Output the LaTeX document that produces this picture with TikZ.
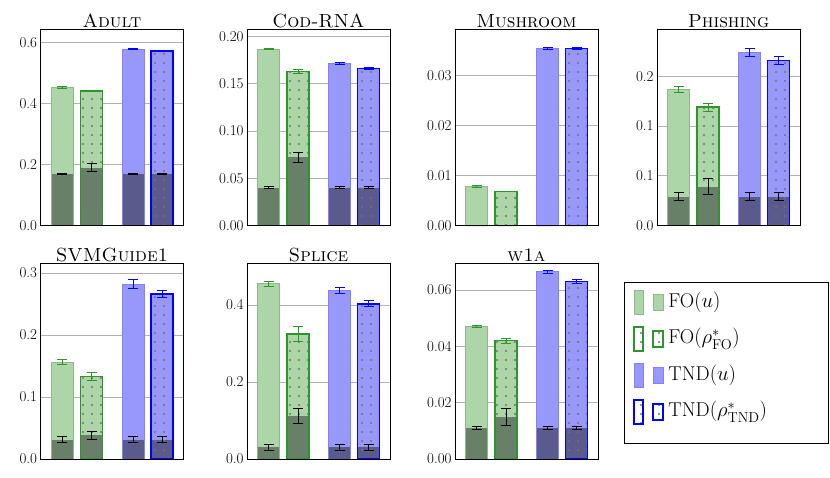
\documentclass[tikz,border=0pt]{standalone}
\usepackage{amsmath}
\usepackage{tikz}
\usetikzlibrary{patterns.meta}
\definecolor{folight}{RGB}{172,214,167}
\definecolor{fodark}{RGB}{104,128,104}
\definecolor{foedge}{RGB}{44,150,44}
\definecolor{tndlight}{RGB}{152,152,250}
\definecolor{tnddark}{RGB}{90,90,140}
\definecolor{tndedge}{RGB}{0,0,255}

% panel frame, grid and ticks
\newcommand{\panel}[5]{%
  \def\pl{#1}\pgfmathsetmacro\pb{#2+196}\pgfmathsetmacro\ps{196/#3}
  \foreach \v/\l in {#5}{
    \draw[gridline] (\pl,\pb-\v*\ps) -- (\pl+143,\pb-\v*\ps);
    \node[ticklabel] at (\pl,\pb-\v*\ps) {\l};
  }
  \node[paneltitle] (title-#4) at (\pl+71.5,#2) {\textsc{#4}};
}
\newcommand{\errbar}[4]{%
  \ifdim #3pt>0pt
    \draw[#4] (#1-5,\pb-#2*\ps-#3*\ps) -- (#1+5,\pb-#2*\ps-#3*\ps)
      (#1,\pb-#2*\ps-#3*\ps) -- (#1,\pb-#2*\ps+#3*\ps)
      (#1-5,\pb-#2*\ps+#3*\ps) -- (#1+5,\pb-#2*\ps+#3*\ps);
  \fi
}
\newcommand{\drawbar}[6]{%
  \pgfmathsetmacro\xa{\pl+#1-11}\pgfmathsetmacro\xb{\pl+#1+11}
  \pgfmathsetmacro\yt{\pb-(#2)*\ps}\pgfmathsetmacro\yb{\pb-(#4)*\ps}
  \fill[#6 light] (\xa,\pb) rectangle (\xb,\yt);
  \fill[#6 dark] (\xa,\pb) rectangle (\xb,\yb);
  \draw[#6 edge] (\xa,\pb) rectangle (\xb,\yt);
  \errbar{\pl+#1}{#2}{#3}{#6 err}
  \errbar{\pl+#1}{#4}{#5}{black}
}
\newcommand{\frameit}{\draw[line width=1pt] (\pl,\pb-196) rectangle (\pl+143,\pb);}
\newcommand{\fourbars}[4]{%
  \drawbar{21.7}#1{fo}\drawbar{51}#2{fos}\drawbar{92.5}#3{tnd}\drawbar{121.5}#4{tnds}\frameit}

\begin{document}
\begin{tikzpicture}[x=1pt,y=-1pt,line width=0.8pt]
\useasboundingbox (0,0) rectangle (830,477);

\tikzstyle{gridline}=[gray!60,line width=0.8pt]
\tikzstyle{ticklabel}=[anchor=east,inner sep=3pt,font=\fontsize{15}{18}\selectfont]
\tikzstyle{paneltitle}=[anchor=south,inner sep=1pt,font=\fontsize{19}{22}\selectfont]
\tikzstyle{dots}=[pattern={Dots[distance=9pt,radius=1.2pt,xshift=2pt]},pattern color=black!55]
\tikzstyle{fo light}=[fill=folight]
\tikzstyle{fo dark}=[fill=fodark]
\tikzstyle{fo edge}=[draw=folight!85!black,line width=0.6pt]
\tikzstyle{fo err}=[foedge]
\tikzstyle{fos light}=[fill=folight]
\tikzstyle{fos dark}=[fill=fodark]
\tikzstyle{fos edge}=[dots,draw=foedge,line width=1.4pt]
\tikzstyle{fos err}=[foedge]
\tikzstyle{tnd light}=[fill=tndlight]
\tikzstyle{tnd dark}=[fill=tnddark]
\tikzstyle{tnd edge}=[draw=tndlight!85!blue,line width=0.6pt]
\tikzstyle{tnd err}=[tndedge]
\tikzstyle{tnds light}=[fill=tndlight]
\tikzstyle{tnds dark}=[fill=tnddark]
\tikzstyle{tnds edge}=[dots,draw=tndedge,line width=1.4pt]
\tikzstyle{tnds err}=[tndedge]
\tikzstyle{legend bar}=[minimum width=9pt,inner sep=0pt]

% top row
\panel{40.5}{29.5}{0.643}{Adult}{0/0.0,0.2/0.2,0.4/0.4,0.6/0.6}
\fourbars{{0.453}{0.002}{0.17}{0.002}}{{0.441}{0.002}{0.19}{0.013}}{{0.579}{0.002}{0.17}{0.002}}{{0.572}{0.002}{0.17}{0.002}}

\panel{247}{29.5}{0.2075}{Cod-RNA}{0/0.00,0.05/0.05,0.1/0.10,0.15/0.15,0.2/0.20}
\fourbars{{0.187}{0.001}{0.04}{0.001}}{{0.163}{0.002}{0.072}{0.005}}{{0.172}{0.001}{0.04}{0.001}}{{0.166}{0.001}{0.04}{0.001}}

\panel{455}{29.5}{0.0393}{Mushroom}{0/0.00,0.01/0.01,0.02/0.02,0.03/0.03}
\fourbars{{0.0079}{0.0002}{0}{0}}{{0.0068}{0}{0}{0}}{{0.0355}{0.0002}{0}{0}}{{0.0355}{0.0002}{0}{0}}

\panel{657}{29.5}{0.197}{Phishing}{0/0.0,0.05/0.1,0.1/0.1,0.15/0.2}
\fourbars{{0.137}{0.003}{0.029}{0.004}}{{0.119}{0.004}{0.039}{0.008}}{{0.174}{0.004}{0.029}{0.004}}{{0.166}{0.004}{0.029}{0.004}}

% bottom row
\panel{40.5}{263}{0.316}{SVMGuide1}{0/0.0,0.1/0.1,0.2/0.2,0.3/0.3}
\fourbars{{0.156}{0.004}{0.031}{0.005}}{{0.133}{0.006}{0.038}{0.006}}{{0.282}{0.007}{0.031}{0.005}}{{0.266}{0.006}{0.031}{0.005}}

\panel{247}{263}{0.509}{Splice}{0/0.0,0.2/0.2,0.4/0.4}
\fourbars{{0.455}{0.007}{0.03}{0.007}}{{0.325}{0.02}{0.112}{0.02}}{{0.437}{0.008}{0.03}{0.007}}{{0.403}{0.008}{0.03}{0.007}}

\panel{455}{263}{0.0696}{w1a}{0/0.00,0.02/0.02,0.04/0.04,0.06/0.06}
\fourbars{{0.047}{0.0004}{0.011}{0.0006}}{{0.042}{0.0008}{0.015}{0.003}}{{0.0665}{0.0006}{0.011}{0.0006}}{{0.063}{0.0008}{0.011}{0.0006}}

% legend
\draw[line width=0.8pt] (624,282) rectangle (828,443);
\foreach \k/\y/\t in {fo/302/{FO$(u)$},fos/339/{FO$(\rho^*_{\mathrm{FO}})$},tnd/375/{TND$(u)$},tnds/412/{TND$(\rho^*_{\mathrm{TND}})$}}{
  \draw[\k\space light,\k\space edge] (634,\y-12) rectangle (643,\y+12);
  \draw[\k\space light,\k\space edge] (653,\y-8) rectangle (663,\y+8);
  \node[anchor=west,inner sep=0pt,font=\fontsize{20}{24}\selectfont] (leg-\k) at (668,\y) {\t};
}
\end{tikzpicture}
\end{document}
